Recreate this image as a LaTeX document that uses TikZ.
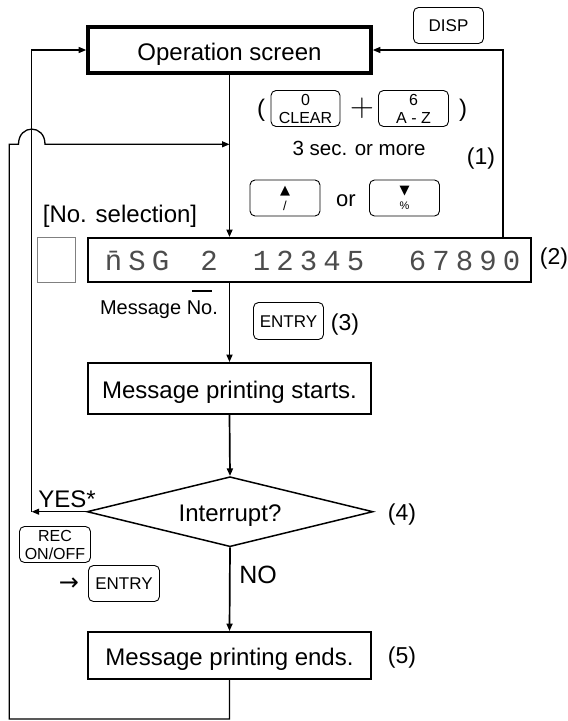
\documentclass[tikz,border=0pt]{standalone}
\usepackage{fontspec}
\setmainfont{Liberation Sans}
\newfontfamily\dvs{DejaVu Sans}
\newfontfamily\segf{Liberation Mono}
\newfontfamily\lmr{Latin Modern Roman}
\usetikzlibrary{arrows.meta,shapes.geometric}
\newcommand\fsz[1]{\fontsize{#1}{#1}\selectfont}
\newcommand\segc[1]{\makebox[23.5pt]{#1}}
\begin{document}
\begin{tikzpicture}[x=1pt,y=-1pt,
  >={Triangle[length=7.5pt,width=6pt]},
  flowbox/.style={draw, line width=1.9pt, minimum width=283pt, inner sep=0pt, text height=19pt, text depth=0pt, font=\fsz{24}},
  key/.style={draw, rounded corners=5pt, line width=0.9pt, inner sep=0pt, align=center},
  keyone/.style={key, font=\fsz{17}, text height=12pt, text depth=0pt},
  segtext/.style={anchor=base, inner sep=0pt, font=\segf\fsz{29}, text=black!70},
  flow/.style={line width=1.7pt, ->},
  back/.style={line width=1.3pt, ->},
  lbl/.style={anchor=base, inner sep=0pt},
]
\useasboundingbox (0,0) rectangle (568,721);

% main boxes
\node[flowbox, line width=3.6pt, minimum height=46pt, text height=20pt] (op) at (229.5,50) {Operation screen};
\node[keyone, minimum width=70pt, minimum height=36pt] (kdisp) at (448.5,25.5) {DISP};

% key combination
\node[lbl, font=\fsz{24}] (lpar) at (261,116) {(};
\node[key, minimum width=69pt, minimum height=36pt, font=\fontsize{16}{18}\selectfont] (kclr) at (305.5,108.5) {0\\CLEAR};
\node[lbl, font=\lmr\fsz{33}] (plus) at (362,116.5) {+};
\node[key, minimum width=70pt, minimum height=36pt, font=\fontsize{16}{18}\selectfont] (kaz) at (413.5,108.5) {6\\A - Z};
\node[lbl, font=\fsz{24}] (rpar) at (463,116) {)};
\node[lbl, font=\fsz{20.5}] (sec) at (359,155) {3 sec. or more};
\node[lbl, font=\fsz{23}] (n1) at (481,164) {(1)};
\node[key, minimum width=70pt, minimum height=36pt, font=\fontsize{13}{16}\selectfont] (kup) at (285,198) {{\dvs ▲}\\/};
\node[lbl, font=\fsz{22}] (or) at (346,206) {or};
\node[key, minimum width=70pt, minimum height=36pt, font=\fontsize{13}{15}\selectfont] (kdn) at (404.5,198) {{\dvs ▼}\\{\fsz{11}\%}};

% display
\node[lbl, font=\fsz{24}] (nosel) at (120,222) {[No. selection]};
\node[draw=black!50, line width=0.9pt, minimum width=38pt, minimum height=45pt, inner sep=0pt] (sq) at (56.5,260) {};
\node[draw, line width=2pt, minimum width=443pt, minimum height=44pt, inner sep=0pt] (dbox) at (309.5,260) {};
\node[segtext] (seg1) at (137,270) {\segc{\=n}\segc{S}\segc{G}};
\node[segtext] (seg2) at (209,270) {\segc{2}};
\node[segtext] (seg3) at (308.5,270) {\segc{1}\segc{2}\segc{3}\segc{4}\segc{5}};
\node[segtext] (seg4) at (464.5,270) {\segc{6}\segc{7}\segc{8}\segc{9}\segc{0}};
\node[lbl, font=\fsz{23}] (n2) at (554,264) {(2)};
\node[lbl, font=\fsz{20}] (msgno) at (159,314) {Message \makebox[0pt][l]{\hspace{5pt}\rule[22.5pt]{20pt}{1.2pt}}No.};
\node[keyone, minimum width=70pt, minimum height=37pt] (kent) at (288.5,321) {ENTRY};
\node[lbl, font=\fsz{23}] (n3) at (345,330) {(3)};

% flow
\node[flowbox, minimum height=51pt] (start) at (229.5,388.5) {Message printing starts.};
\node[draw, diamond, aspect=4, line width=1.5pt, minimum width=286pt, minimum height=70pt, inner sep=0pt, text height=20pt, text depth=0pt, font=\fsz{24}] (dia) at (230,511.7) {Interrupt?};
\node[lbl, font=\fsz{23}] (n4) at (402,520) {(4)};
\node[lbl, font=\fsz{24}] (yes) at (67,507) {YES*};
\node[key, minimum width=71pt, minimum height=36pt, font=\fontsize{16}{18}\selectfont] (krec) at (55,544.5) {REC\\ON/OFF};
\node[lbl, font=\dvs\fsz{24}] (arr) at (69,590) {→};
\node[keyone, minimum width=71pt, minimum height=36pt] (kent2) at (124,583.5) {ENTRY};
\node[lbl, font=\fsz{25}] (no) at (258,583) {NO};
\node[flowbox, minimum height=47pt] (end) at (229.5,655.5) {Message printing ends.};
\node[lbl, font=\fsz{23}] (n5) at (402,663) {(5)};

% connectors
\draw[flow] (op.south) -- (op.south |- dbox.north);
\draw[flow] (op.south |- dbox.south) -- (start.north);
\draw[flow] (start.south) -- (dia.north);
\draw[flow] (dia.south) -- (end.north);
\coordinate (ycor) at (31.7,511.7);
\draw[back] (dia.west) -- (ycor);
\draw[back] (ycor) |- (op.west);
\coordinate (rcor) at (503,237);
\draw[back] (rcor) |- (op.east);
\coordinate (hopin) at (229.5,144.3);
\coordinate (lowc) at (9.3,719);
\draw[back] (end.south) |- (lowc) |- (18.5,144.3) .. controls (18.5,124) and (45,124) .. (45,144.3) -- (hopin);
\end{tikzpicture}
\end{document}
